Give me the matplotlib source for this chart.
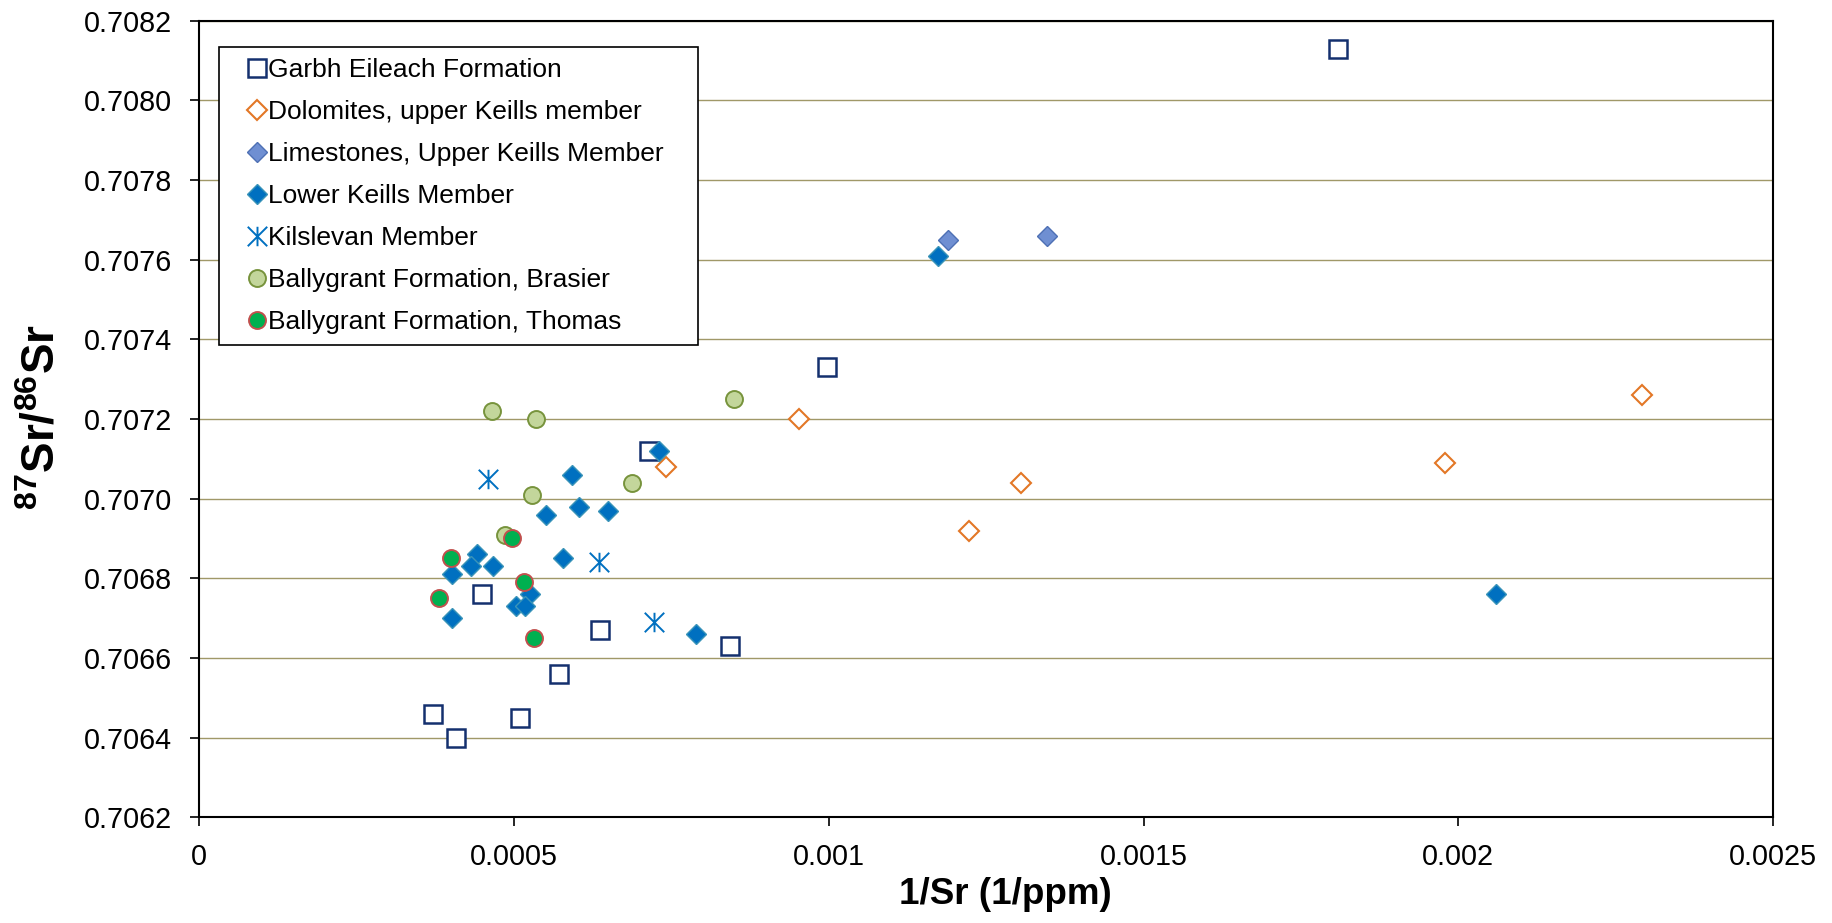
import numpy as np
import matplotlib
matplotlib.use("Agg")
import matplotlib.pyplot as plt
from matplotlib.path import Path

plt.rcParams["font.family"] = ["Liberation Sans", "DejaVu Sans"]
plt.rcParams["mathtext.fontset"] = "custom"
plt.rcParams["mathtext.rm"] = "Liberation Sans"
plt.rcParams["mathtext.bf"] = "Liberation Sans:bold"

# --- data ---
garbh_x = [0.001809, 0.000997, 0.000714, 0.000450, 0.000637, 0.000843, 0.000571, 0.000371, 0.000509, 0.000408]
garbh_y = [0.70813, 0.70733, 0.70712, 0.70676, 0.70667, 0.70663, 0.70656, 0.70646, 0.70645, 0.70640]

dolo_x = [0.000952, 0.000741, 0.001305, 0.001223, 0.001978, 0.002292]
dolo_y = [0.70720, 0.70708, 0.70704, 0.70692, 0.70709, 0.70726]

lime_x = [0.001190, 0.001346]
lime_y = [0.70765, 0.70766]

lower_x = [0.001173, 0.002060, 0.000730, 0.000593, 0.000604, 0.000650, 0.000551, 0.000578, 0.000441,
           0.000432, 0.000467, 0.000402, 0.000526, 0.000503, 0.000517, 0.000402, 0.000789]
lower_y = [0.70761, 0.70676, 0.70712, 0.70706, 0.70698, 0.70697, 0.70696, 0.70685, 0.70686,
           0.70683, 0.70683, 0.70681, 0.70676, 0.70673, 0.70673, 0.70670, 0.70666]

kils_x = [0.000459, 0.000635, 0.000723]
kils_y = [0.70705, 0.70684, 0.70669]

brasier_x = [0.000466, 0.000535, 0.000850, 0.000688, 0.000528, 0.000486]
brasier_y = [0.70722, 0.70720, 0.70725, 0.70704, 0.70701, 0.70691]

thomas_x = [0.000497, 0.000400, 0.000516, 0.000381, 0.000532]
thomas_y = [0.70690, 0.70685, 0.70679, 0.70675, 0.70665]

x_ticks = [0, 0.0005, 0.001, 0.0015, 0.002, 0.0025]
x_tick_labels = ["0", "0.0005", "0.001", "0.0015", "0.002", "0.0025"]
y_ticks = [0.7062, 0.7064, 0.7066, 0.7068, 0.7070, 0.7072, 0.7074, 0.7076, 0.7078, 0.7080, 0.7082]

# six-armed asterisk like the spreadsheet marker
star = Path([(0, -1), (0, 1), (-1, -1), (1, 1), (-1, 1), (1, -1)],
            [Path.MOVETO, Path.LINETO, Path.MOVETO, Path.LINETO, Path.MOVETO, Path.LINETO])

fig = plt.figure(figsize=(18.33, 9.23), dpi=100)
ax = fig.add_axes([0.1086, 0.1145, 0.8588, 0.8631])

ax.plot(garbh_x, garbh_y, ls="none", marker="s", ms=12.8, mfc="white", mec="#14306e", mew=1.8,
        label="Garbh Eileach Formation", zorder=3)
ax.plot(dolo_x, dolo_y, ls="none", marker="D", ms=10.2, mfc="white", mec="#E37726", mew=1.5,
        label="Dolomites, upper Keills member", zorder=4)
ax.plot(lime_x, lime_y, ls="none", marker="D", ms=9.8, mfc="#6F8FD2", mec="#4E70B4", mew=1.0,
        label="Limestones, Upper Keills Member", zorder=5)
ax.plot(lower_x, lower_y, ls="none", marker="D", ms=9.8, mfc="#0070C0", mec="#3A94B8", mew=1.0,
        label="Lower Keills Member", zorder=6)
ax.plot(kils_x, kils_y, ls="none", marker=star, ms=14, mfc="none", mec="#0070C0", mew=1.4,
        label="Kilslevan Member", zorder=7)
ax.plot(brasier_x, brasier_y, ls="none", marker="o", ms=12.2, mfc="#C3D69B", mec="#77933C", mew=1.4,
        label="Ballygrant Formation, Brasier", zorder=8)
ax.plot(thomas_x, thomas_y, ls="none", marker="o", ms=12.2, mfc="#00B050", mec="#C0504D", mew=1.4,
        label="Ballygrant Formation, Thomas", zorder=9)

ax.set_xlim(0, 0.0025)
ax.set_ylim(0.7062, 0.7082)
ax.set_xticks(x_ticks)
ax.set_xticklabels(x_tick_labels)
ax.set_yticks(y_ticks)
ax.set_yticklabels([f"{v:.4f}" for v in y_ticks])

ax.yaxis.grid(True, color="#A09868", lw=1.0, zorder=0)
ax.set_axisbelow(True)
for s in ax.spines.values():
    s.set_linewidth(1.5)
    s.set_color("black")
ax.tick_params(axis="both", direction="out", length=6.5, width=1.2, labelsize=20.7, color="black")
ax.tick_params(axis="y", pad=13)
ax.tick_params(axis="x", pad=12)

ax.set_xlabel("1/Sr (1/ppm)", fontsize=26.5, fontweight="bold", va="center")
ax.xaxis.set_label_coords(0.512, -0.0975)
ax.set_ylabel(r"$\mathbf{^{87}Sr/^{86}Sr}$", fontsize=33, va="center")
ax.yaxis.set_label_coords(-0.0995, 0.503)

leg = ax.legend(loc="upper left", bbox_to_anchor=(0.0127, 0.5, 0.3043, 0.4666), mode="expand",
                borderaxespad=0, fontsize=19, numpoints=1, fancybox=False, framealpha=1,
                edgecolor="black", borderpad=0.41, labelspacing=0.68, handlelength=2.04,
                handletextpad=-0.59)
leg.get_frame().set_linewidth(1.2)

fig.savefig("out.png", dpi=100)
